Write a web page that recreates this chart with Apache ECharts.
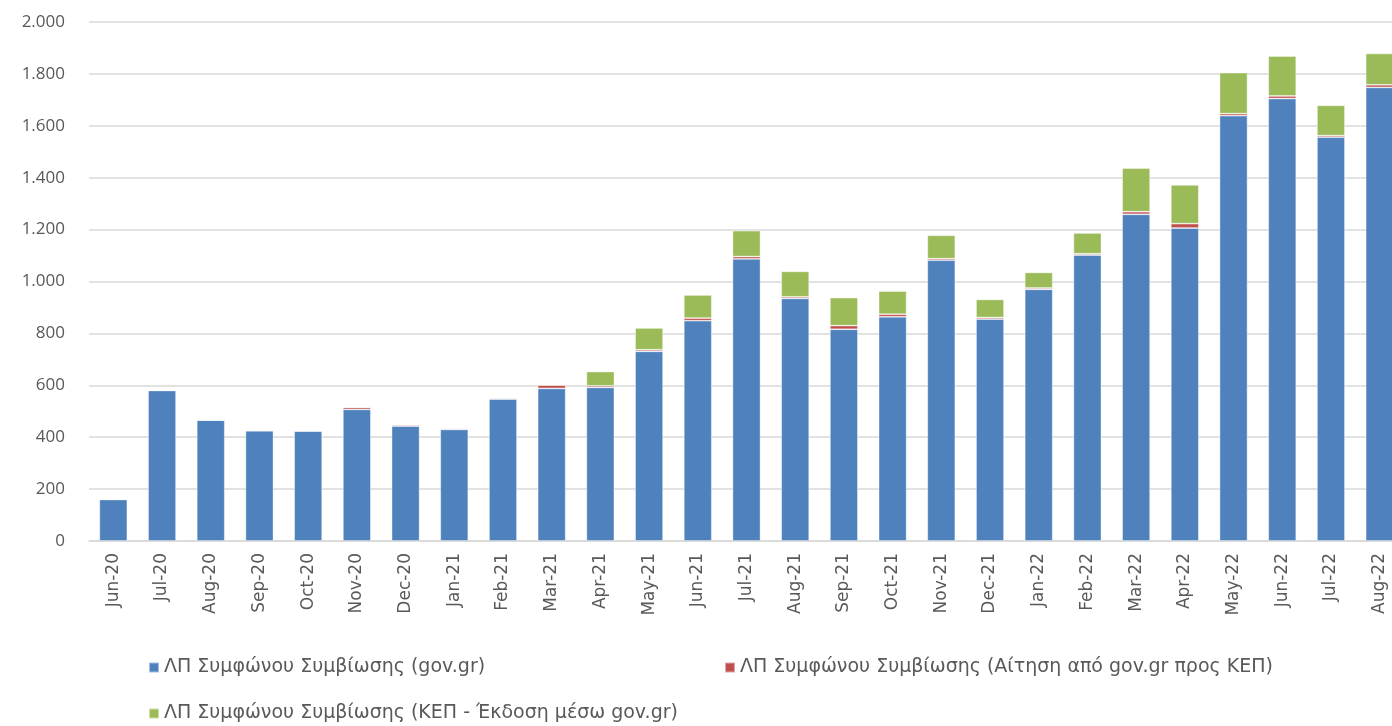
<!DOCTYPE html>
<html>
<head>
<meta charset="utf-8">
<script src="https://cdn.jsdelivr.net/npm/echarts@6/dist/echarts.min.js"></script>
<style>
html,body{margin:0;padding:0;background:#fff;}
#chart{width:1392px;height:726px;}
</style>
</head>
<body>
<div id="chart"></div>
<script>
const categories = ["Jun-20","Jul-20","Aug-20","Sep-20","Oct-20","Nov-20","Dec-20","Jan-21","Feb-21","Mar-21","Apr-21","May-21","Jun-21","Jul-21","Aug-21","Sep-21","Oct-21","Nov-21","Dec-21","Jan-22","Feb-22","Mar-22","Apr-22","May-22","Jun-22","Jul-22","Aug-22"];
const govValues = [160,580,466,425,424,507,443,430,547,588,592,731,849,1087,935,816,864,1082,855,970,1102,1259,1206,1639,1705,1556,1748];
const kepRequestValues = [0,0,0,0,0,8,5,4,4,13,6,6,10,9,6,14,10,6,6,5,5,10,17,8,10,6,10];
const kepIssueValues = [0,0,0,0,0,0,0,0,0,0,55,84,89,100,98,108,89,90,70,60,80,168,149,158,154,117,121];
const seriesNames = ["ΛΠ Συμφώνου Συμβίωσης (gov.gr)","ΛΠ Συμφώνου Συμβίωσης (Αίτηση από gov.gr προς ΚΕΠ)","ΛΠ Συμφώνου Συμβίωσης (ΚΕΠ - Έκδοση μέσω gov.gr)"];
const yTicks = {min:0, max:2000, interval:200};

const colors = ["#4F81BD","#C0504D","#9BBB59"];
const font = "Open Sans";
const chart = echarts.init(document.getElementById('chart'));
function mkSeries(i, data){
  return {name:seriesNames[i], type:'bar', stack:'total', data:data, barWidth:28,
    itemStyle:{color:colors[i], borderColor:'rgba(255,255,255,0.5)', borderWidth:0.8}};
}
function mkLegend(i, left, top){
  return {data:[seriesNames[i]], left:left, top:top, icon:'rect', itemWidth:10, itemHeight:10, itemGap:4,
    textStyle:{fontFamily:'DejaVu Sans', fontSize:19, color:'#595959'}, selectedMode:false, padding:0};
}
chart.setOption({
  animation:false,
  color:colors,
  grid:{left:89, top:22, width:1315, height:519, containLabel:false, outerBoundsMode:'none'},
  legend:[mkLegend(0,148,658), mkLegend(1,724,658), mkLegend(2,148,704)],
  xAxis:{type:'category', data:categories,
    axisLine:{lineStyle:{color:'#d9d9d9', width:1.5}},
    axisTick:{show:false},
    axisLabel:{rotate:90, interval:0, margin:12, color:'#595959', fontFamily:'DejaVu Sans', fontSize:17}},
  yAxis:{type:'value', min:yTicks.min, max:yTicks.max, interval:yTicks.interval,
    axisLine:{show:false}, axisTick:{show:false},
    splitLine:{lineStyle:{color:'#d9d9d9', width:1.5}},
    axisLabel:{margin:24, color:'#595959', fontFamily:font, fontSize:17,
      formatter:function(v){return String(v).replace(/\B(?=(\d{3})+(?!\d))/g,'.');}}},
  series:[mkSeries(0,govValues), mkSeries(1,kepRequestValues), mkSeries(2,kepIssueValues)]
});
</script>
</body>
</html>
